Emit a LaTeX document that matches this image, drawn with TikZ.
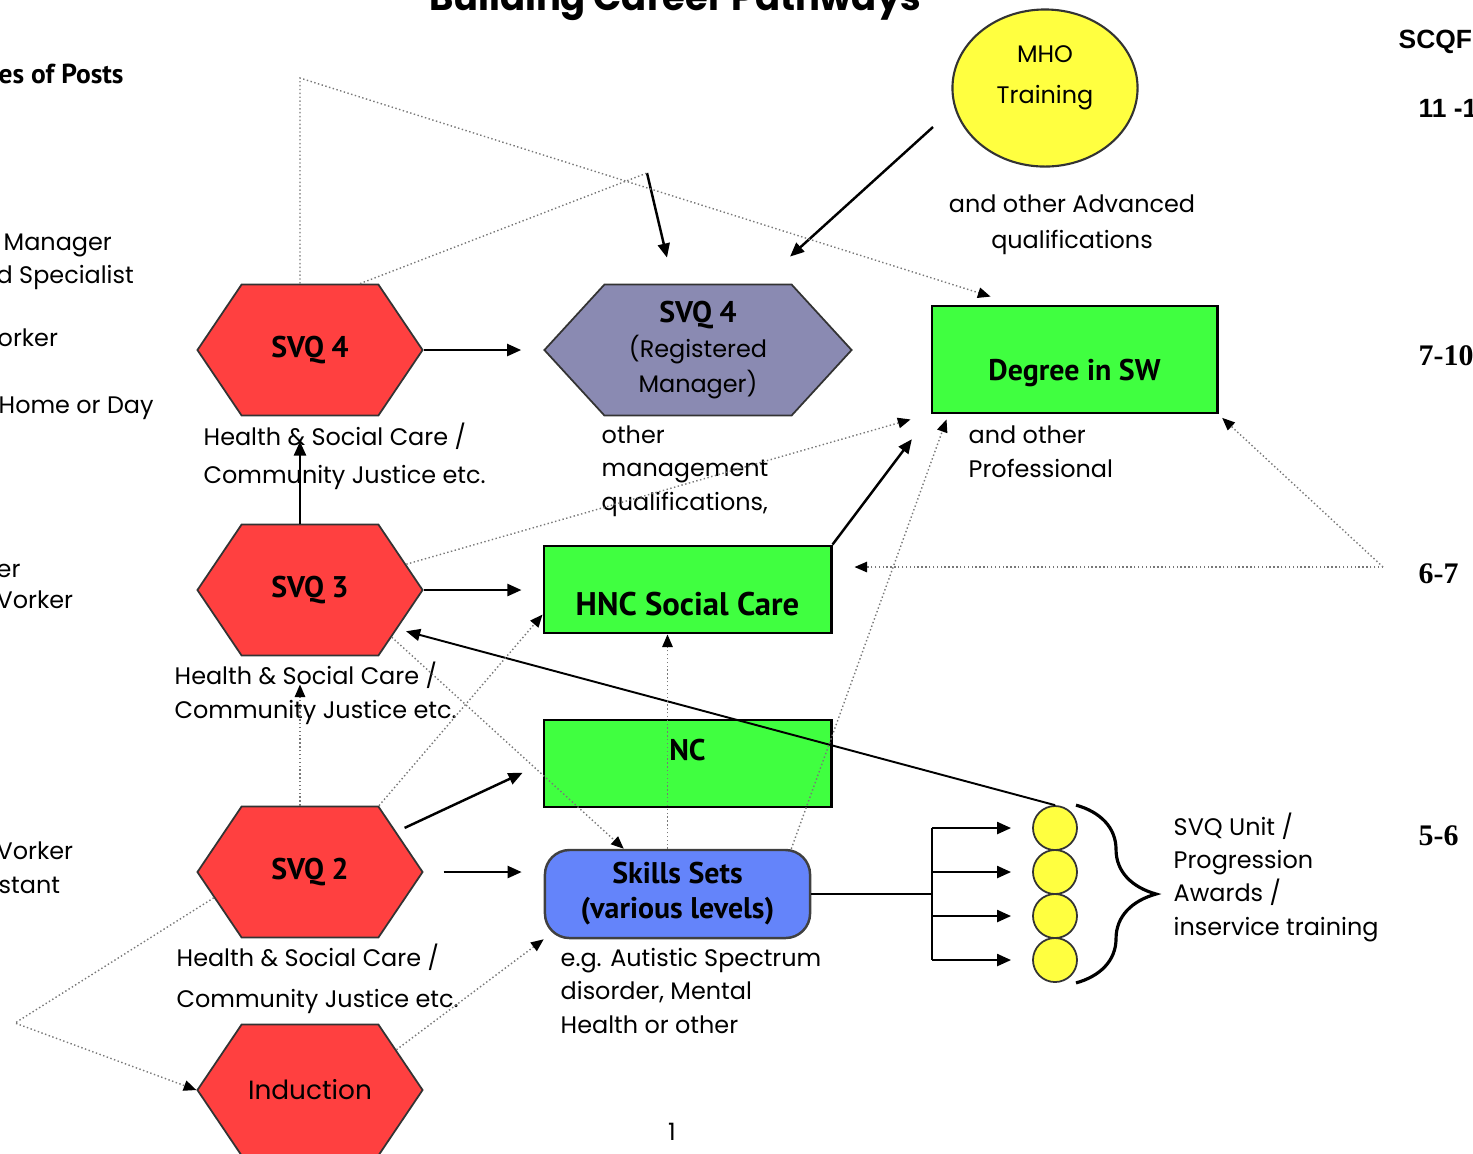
\documentclass[tikz,border=0pt]{standalone}
\usepackage{fontspec}
\setmainfont{Poppins}
\newfontfamily\heavy{PT Sans}
\newfontfamily\arialf{Liberation Sans}
\newfontfamily\timesf{Liberation Serif}
\usepackage{tikz}
\usetikzlibrary{shapes,arrows.meta,positioning,calc,decorations.pathreplacing}
\definecolor{svqRed}{RGB}{255,64,64}
\definecolor{mgrPurple}{RGB}{138,138,178}
\definecolor{qualGreen}{RGB}{64,255,64}
\definecolor{skillBlue}{RGB}{100,132,250}
\definecolor{mhoYellow}{RGB}{255,255,64}
\definecolor{dotGrey}{RGB}{120,120,120}

\begin{document}
\begin{tikzpicture}[x=0.01cm,y=-0.01cm,
    hexa/.style={signal,signal to=east and west,signal from=nowhere,signal pointer angle=112,
                 draw=black!80,line width=0.5pt,fill=svqRed,minimum width=2.25cm,minimum height=1.31cm,inner sep=0pt},
    qbox/.style={rectangle,draw=black,line width=0.8pt,fill=qualGreen,minimum width=2.87cm,minimum height=0.87cm,inner sep=0pt},
    unitdot/.style={circle,draw=black!80,line width=0.5pt,fill=mhoYellow,minimum size=0.44cm,inner sep=0pt},
    hvy/.style={font=\heavy\bfseries\fontsize{8.5}{10}\selectfont},
    txt/.style={font=\fontsize{6.8}{9.4}\selectfont,inner sep=0pt,align=left,anchor=base west},
    lvl/.style={font=\timesf\bfseries\fontsize{8.5}{10}\selectfont,inner sep=0pt,anchor=base west},
    arr/.style={-{Triangle[length=4pt,width=3.4pt]},line width=0.7pt},
    dotln/.style={draw=dotGrey,line width=0.4pt,dash pattern=on 0.4pt off 0.7pt},
    dotarr/.style={dotln,-{Triangle[length=3.6pt,width=3pt,black]}}
  ]
\useasboundingbox (0,0) rectangle (1473,1153);

\node[font=\bfseries\fontsize{10.5}{12}\selectfont,anchor=base] (title) at (675,10) {Building Career Pathways};

\node[txt,font=\heavy\bfseries\fontsize{7.8}{10}\selectfont] (posts) at (-2,83) {es of Posts};
\node[txt] (mgr) at (3,250) {Manager};
\node[txt] (spec) at (-4,283) {d Specialist};
\node[txt] (wkr1) at (-3,346) {orker};
\node[txt] (day) at (-2,413) {Home or Day};
\node[txt] (er) at (-4,577) {er};
\node[txt] (wkr2) at (-4,608) {Vorker};
\node[txt] (wkr3) at (-4,859) {Vorker};
\node[txt] (stant) at (-2,893) {stant};

\node[txt,font=\arialf\bfseries\fontsize{7.5}{9}\selectfont] (scqf) at (1398,48) {SCQF};
\node[txt,font=\arialf\bfseries\fontsize{7.5}{9}\selectfont] (lvl11) at (1418,117) {11 -1};
\node[lvl] (lvl710) at (1418,365) {7-10};
\node[lvl] (lvl67) at (1418,583) {6-7};
\node[lvl] (lvl56) at (1418,845) {5-6};

\node[hexa,hvy] (svq4) at (310,350) {SVQ 4};
\node[hexa,hvy] (svq3) at (310,590) {SVQ 3};
\node[hexa,hvy] (svq2) at (310,872) {SVQ 2};
\node[hexa,font=\fontsize{7.5}{9}\selectfont] (induct) at (310,1090) {Induction};
\node[hexa,fill=mgrPurple,signal pointer angle=95,minimum width=3.07cm,align=center,font=\fontsize{6.8}{10}\selectfont] (regmgr) at (698,350) {{\heavy\bfseries\fontsize{8.5}{10}\selectfont SVQ 4}\\(Registered\\Manager)};

\node[qbox,minimum width=2.85cm,minimum height=1.07cm,hvy,text height=11.7pt,text depth=0pt] (degree) at (1074.5,359.5) {Degree in SW};
\node[qbox,font=\heavy\bfseries\fontsize{9.3}{10}\selectfont,text height=14.5pt,text depth=0pt] (hnc) at (687.5,589.5) {HNC Social Care};
\node[qbox,hvy,text height=6pt,text depth=8pt] (nc) at (687.5,763.5) {NC};
\node[rectangle,rounded corners=7pt,draw=black!75,line width=0.7pt,fill=skillBlue,minimum width=2.65cm,minimum height=0.88cm,align=center,font=\heavy\bfseries\fontsize{8.5}{10}\selectfont] (skills) at (677.5,894) {Skills Sets\\(various levels)};

\node[ellipse,draw=black!80,line width=0.6pt,fill=mhoYellow,minimum width=1.85cm,minimum height=1.57cm] (mho) at (1045,88) {};
\node[txt,anchor=base,align=center,font=\fontsize{6.8}{11.4}\selectfont] (mhotxt) at (1045,103) {MHO\\Training};

\node[unitdot] (dot1) at (1055,828) {};
\node[unitdot] (dot2) at (1055,872) {};
\node[unitdot] (dot3) at (1055,916) {};
\node[unitdot] (dot4) at (1055,960) {};

\node[txt] (hsc4) at (203,483) {Health \& Social Care /\\[1.4pt]Community Justice etc.};
\node[txt] (hsc3) at (174,718) {Health \& Social Care /\\Community Justice etc.};
\node[txt] (hsc2) at (176,1007) {Health \& Social Care /\\[2pt]Community Justice etc.};
\node[txt] (othermgmt) at (601,510) {other\\management\\qualifications,};
\node[txt] (otherprof) at (968,477) {and other\\Professional};
\node[txt,anchor=base,align=center,font=\fontsize{6.8}{10}\selectfont] (advanced) at (1072,248) {and other Advanced\\qualifications};
\node[txt] (examples) at (560,1033) {e.g. Autistic Spectrum\\disorder, Mental\\Health or other};
\node[txt] (units) at (1173,935) {SVQ Unit /\\Progression\\Awards /\\inservice training};
\node[txt,anchor=base] (page) at (672,1140) {1};

\coordinate (topbend) at (300,78);
\coordinate (cross) at (647,173);
\coordinate (mhofoot) at (933,127);
\coordinate (lvlsix) at (1383,567);
\coordinate (leftbend) at (15,1023);
\coordinate (bus) at (932,894);

\draw[arr,shorten >=0.22cm] (svq4.east) -- (regmgr.west);
\draw[arr,shorten >=0.21cm] (svq3.east) -- (svq3.east -| hnc.west);
\draw[arr,shorten <=0.2cm,shorten >=0.22cm] (svq2.east) -- (svq2.east -| skills.west);
\draw[arr,shorten <=0.09cm,shorten >=0.22cm] (svq2.25) -- (nc.west);
\draw[arr,shorten >=0.25cm] ([xshift=-0.1cm]svq3.north) -- ([xshift=-0.1cm]svq4.south);
\draw[arr] (mhofoot) -- ([xshift=0.92cm,yshift=0.27cm]regmgr.north);
\draw[arr] (cross) -- ([xshift=-0.31cm,yshift=0.26cm]regmgr.north);
\draw[arr,shorten >=0.31cm] (hnc.north east) -- (degree.south west);
\draw[arr,line width=0.55pt,shorten >=0.09cm] (dot1.north) -- (svq3.-24);
\draw[line width=0.7pt] (skills.east) -- (bus);
\draw[line width=0.7pt] (bus |- dot1) -- (bus |- dot4);
\draw[arr,shorten >=0.21cm] (bus |- dot1) -- (dot1.west);
\draw[arr,shorten >=0.21cm] (bus |- dot2) -- (dot2.west);
\draw[arr,shorten >=0.21cm] (bus |- dot3) -- (dot3.west);
\draw[arr,shorten >=0.21cm] (bus |- dot4) -- (dot4.west);
\draw[line width=0.9pt,decorate,decoration={brace,amplitude=0.8cm}] ([xshift=0.21cm]dot1.north) -- ([xshift=0.21cm]dot4.south);

\draw[dotarr] ([xshift=-0.1cm]svq4.north) -- (topbend) -- ([xshift=0.6cm,yshift=0.08cm]degree.north west);
\draw[dotln] ([xshift=0.5cm]svq4.north) -- (cross);
\draw[dotarr] (svq3.15) -- ([xshift=-0.2cm,yshift=-0.05cm]degree.south west);
\draw[dotarr] ([xshift=0.69cm]svq2.north) -- ([yshift=-0.25cm]hnc.west);
\draw[dotarr,shorten >=0.28cm] ([xshift=-0.1cm]svq2.north) -- ([xshift=-0.1cm]svq3.south);
\draw[dotarr] (svq3.-30) -- ([xshift=0.8cm]skills.north west);
\draw[dotarr] ([xshift=-0.2cm]hnc.south |- skills.north) -- ([xshift=-0.2cm]hnc.south);
\draw[dotarr] ([xshift=-0.2cm]skills.north east) -- ([xshift=0.16cm,yshift=-0.05cm]degree.south west);
\draw[dotarr,shorten >=0.22cm] (lvlsix) -- (lvlsix -| hnc.east);
\draw[dotarr,shorten >=0.05cm] (lvlsix) -- (degree.south east);
\draw[dotarr] (svq2.195) -- (leftbend) -- (induct.west);
\draw[dotarr] (induct.25) -- (skills.south west);
\end{tikzpicture}
\end{document}
